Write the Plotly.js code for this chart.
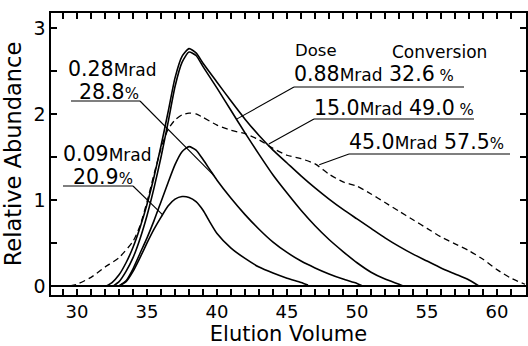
<!DOCTYPE html>
<html>
<head>
<meta charset="utf-8">
<script src="https://cdn.plot.ly/plotly-3.0.1.min.js"></script>
<style>html,body{margin:0;padding:0;background:#fff;}</style>
</head>
<body>
<div id="chart" style="width:528px;height:346px;"></div>
<script>
// ---- data (elution volume vs relative abundance) ----
const x009 = [33.0,33.5,34,34.5,35,35.5,36,36.5,37,37.5,38,38.5,39,39.5,40,41,42,43,44,45,46,46.5];
const y009 = [0,0.05,0.17,0.33,0.5,0.66,0.8,0.93,1.01,1.04,1.03,0.98,0.88,0.74,0.61,0.44,0.32,0.22,0.15,0.09,0.04,0.01];

const x028 = [33.0,33.5,34,34.5,35,35.5,36,36.5,37,37.5,38,38.5,39,39.5,40,41,42,43,44,45,46,47,48,49,50,50.4];
const y028 = [0,0.06,0.2,0.38,0.56,0.76,0.98,1.2,1.41,1.56,1.62,1.58,1.47,1.35,1.23,1.02,0.83,0.66,0.51,0.39,0.29,0.21,0.14,0.08,0.03,0];

const x088 = [32.6,33,33.5,34,34.5,35,35.5,36,36.5,37,37.5,38,38.5,39,40,41,42,43,44,45,46,47,48,49,50,51,52,53,53.3];
const y088 = [0,0.05,0.17,0.33,0.55,0.82,1.14,1.5,1.9,2.32,2.6,2.72,2.68,2.55,2.3,2.04,1.78,1.53,1.29,1.08,0.88,0.7,0.54,0.4,0.27,0.16,0.08,0.02,0];

const x150 = [32.1,32.5,33,33.5,34,34.5,35,35.5,36,36.5,37,37.5,38,38.5,39,40,41,42,43,44,45,46,47,48,49,50,51,52,53,54,55,56,57,58,58.7];
const y150 = [0,0.04,0.13,0.27,0.45,0.68,0.95,1.27,1.63,2.02,2.42,2.67,2.76,2.71,2.59,2.37,2.15,1.94,1.75,1.58,1.43,1.28,1.14,1.01,0.89,0.78,0.67,0.56,0.46,0.37,0.29,0.21,0.14,0.07,0];

const x450 = [29.5,30,31,32,33,34,34.5,35,35.5,36,36.5,37,37.5,38,38.5,39,40,41,42,43,44,45,46,47,48,49,50,51,52,53,54,55,56,57,58,59,60,61,62];
const y450 = [0,0.02,0.1,0.22,0.33,0.52,0.7,0.98,1.3,1.6,1.82,1.93,1.99,2.01,2.0,1.96,1.87,1.81,1.77,1.7,1.6,1.52,1.48,1.42,1.3,1.21,1.16,1.07,0.97,0.87,0.77,0.67,0.57,0.49,0.41,0.31,0.19,0.09,0.02];

const doses = ["0.09", "0.28", "0.88", "15.0", "45.0"];
const conversions = ["20.9", "28.8", "32.6", "49.0", "57.5"];
const xLabelVals = [30, 35, 40, 45, 50, 55, 60];
const yLabelVals = [0, 1, 2, 3];

// ---- layout geometry ----
const W = 528, H = 346;
const M = {l: 51, r: 2, t: 13, b: 51};
const XR = [28.14, 62.07], YR = [-0.105, 3.174];
const pw = W - M.l - M.r, ph = H - M.t - M.b;
// pixel -> data / paper helpers for text and leader placement
const X = px => XR[0] + (px - M.l) / pw * (XR[1] - XR[0]);
const Y = py => YR[1] - (py - M.t) / ph * (YR[1] - YR[0]);
const PX = px => (px - M.l) / pw;
const PY = py => (H - M.b - py) / ph;

// tick positions: every unit on x, every half unit on y; labels only on labelled values
const xTicks = [], xText = [];
for (let v = 29; v <= 62; v++) { xTicks.push(v); xText.push(xLabelVals.includes(v) ? String(v) : ""); }
const yTicks = [], yText = [];
for (let v = 0; v <= 3; v += 0.5) { yTicks.push(v); yText.push(yLabelVals.includes(v) ? String(v) : ""); }

const FONT = "DejaVu Sans";
const line = {color: "#000", width: 1.6, shape: "spline", smoothing: 0.6};

const traces = [
  {x: x009, y: y009, mode: "lines", line: line, name: doses[0]},
  {x: x028, y: y028, mode: "lines", line: line, name: doses[1]},
  {x: x088, y: y088, mode: "lines", line: line, name: doses[2]},
  {x: x150, y: y150, mode: "lines", line: line, name: doses[3]},
  {x: x450, y: y450, mode: "lines", line: Object.assign({}, line, {dash: "6px,4px", width: 1.3}), name: doses[4]}
];

const big = 20.5, mrad = 17, pc = 15;
const mr = '<span style="font-size:' + mrad + 'px">Mrad</span>';
const lab = (d, c, sp) => d + mr +
  (c !== null ? ' ' + c + '<span style="font-size:' + pc + 'px">' + sp + '%</span>' : '');
const pct = c => c + '<span style="font-size:' + pc + 'px">%</span>';

const ann = (px, py, text, size) => ({
  xref: "paper", yref: "paper", x: PX(px), y: PY(py), xanchor: "left", yanchor: "middle",
  text: text, showarrow: false, font: {family: FONT, size: size || big, color: "#000"}
});

const annotations = [
  ann(66, 69, lab(doses[1], null)),
  ann(77, 92, pct(conversions[1])),
  ann(61, 154, lab(doses[0], null)),
  ann(71, 177, pct(conversions[0])),
  ann(293, 51, "Dose", 16.5),
  ann(390, 52, "Conversion", 17),
  ann(292, 74, lab(doses[2], conversions[2], "&nbsp;")),
  ann(312, 108, lab(doses[3], conversions[3], "&nbsp;")),
  ann(347, 142, lab(doses[4], conversions[4], ""))
];

const seg = (x0, y0, x1, y1) => ({type: "line", xref: "x", yref: "y", x0: x0, y0: y0, x1: x1, y1: y1, line: {color: "#000", width: 1.1}});
const shapes = [
  seg(X(71), Y(101), X(140), Y(101)), seg(X(140), Y(101), 39.8, 1.28),
  seg(X(63), Y(186), X(133), Y(186)), seg(X(133), Y(186), 36.1, 0.83),
  seg(X(294), Y(87), X(464), Y(87)), seg(X(294), Y(87), 41.4, 1.94),
  seg(X(314), Y(119), X(474), Y(119)), seg(X(314), Y(119), 43.7, 1.65),
  seg(X(349), Y(154), X(510), Y(154)), seg(X(349), Y(154), 47.3, 1.41)
];

const axisCommon = {
  showline: true, linecolor: "#000", linewidth: 1.6, mirror: "ticks", showgrid: false,
  ticks: "inside", tickcolor: "#000", tickwidth: 1.3, ticklen: 6
};

const layout = {
  width: W, height: H, margin: M, showlegend: false,
  paper_bgcolor: "#fff", plot_bgcolor: "#fff",
  font: {family: FONT, color: "#000"},
  xaxis: Object.assign({}, axisCommon, {
    range: XR, tickmode: "array", tickvals: xTicks, ticktext: xText, zeroline: false,
    tickfont: {family: FONT, size: 18, color: "#000"},
    title: {text: "Elution Volume", font: {family: FONT, size: 21, color: "#000"}, standoff: 5}
  }),
  yaxis: Object.assign({}, axisCommon, {
    range: YR, tickmode: "array", tickvals: yTicks, ticktext: yText,
    zeroline: true, zerolinecolor: "#000", zerolinewidth: 1.6,
    tickfont: {family: FONT, size: 19, color: "#000"},
    title: {text: "Relative Abundance", font: {family: FONT, size: 22.5, color: "#000"}, standoff: 5}
  }),
  annotations: annotations,
  shapes: shapes
};

Plotly.newPlot("chart", traces, layout, {staticPlot: true, displayModeBar: false});
</script>
</body>
</html>
